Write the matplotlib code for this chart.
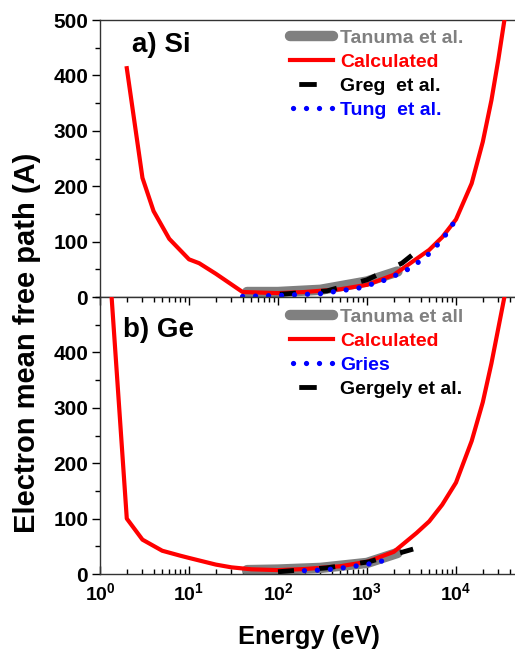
import numpy as np
import matplotlib
matplotlib.use('Agg')
import matplotlib.pyplot as plt
from matplotlib.ticker import MultipleLocator, LogLocator, NullFormatter
from matplotlib.lines import Line2D

plt.rcParams['font.family'] = ['Liberation Sans', 'DejaVu Sans']
plt.rcParams['font.weight'] = 'bold'
plt.rcParams['mathtext.fontset'] = 'custom'
plt.rcParams['mathtext.rm'] = 'Liberation Sans:bold'
plt.rcParams['mathtext.it'] = 'Liberation Sans:bold'
plt.rcParams['mathtext.bf'] = 'Liberation Sans:bold'

# ---------------- data ----------------
# a) Si
si_calc_E = [2, 3, 4, 6, 10, 13, 20, 40, 100, 200, 500, 1000, 2000, 5000, 7000, 10000,
             15000, 20000, 25000, 30000, 35000]
si_calc_v = [413, 215, 155, 105, 68, 61, 42, 9, 7, 9, 14, 22, 40, 85, 108, 140,
             205, 280, 355, 430, 500]
si_tanuma_E = [45, 100, 300, 1000, 2200]
si_tanuma_v = [9, 9, 13, 28, 46]
si_greg_E = [105, 355, 1000, 2470, 4700]
si_greg_v = [5, 11, 31, 61, 97]
si_tung_E = [40, 110, 300, 800, 1500, 2700, 4500, 7000, 10000]
si_tung_v = [1, 3, 6, 16, 29, 47, 71, 103, 140]

# b) Ge
ge_calc_E = [1.35, 2, 3, 5, 8, 10, 20, 30, 50, 100, 200, 500, 1000, 2000, 3600, 5000,
             7000, 10000, 15000, 20000, 25000, 30000, 35000]
ge_calc_v = [500, 100, 62, 42, 33, 29, 17, 12, 8.5, 7, 9, 14, 22, 40, 74, 95,
             125, 165, 240, 310, 380, 445, 500]
ge_tanuma_E = [45, 100, 300, 1000, 2200]
ge_tanuma_v = [7, 8, 11, 20, 38]
ge_gergely_E = [100, 350, 1050, 3300]
ge_gergely_v = [4, 11, 22, 45]
ge_gries_E = [198, 291, 418, 601, 857, 1200, 1590]
ge_gries_v = [6, 7, 9, 12, 16, 19.5, 25]

y_ticks_a = [0, 100, 200, 300, 400, 500]
y_ticks_b = [0, 100, 200, 300, 400]

GRAY = '#808080'
RED = '#ff0000'
BLUE = '#0000ff'
BLACK = '#000000'

fig = plt.figure(figsize=(5.15, 6.5), dpi=100)
W, H = 515.0, 650.0
def pos(l, t, r, b):
    return [l / W, 1 - b / H, (r - l) / W, (b - t) / H]

ax1 = fig.add_axes(pos(100, 20, 518.2, 297))
ax2 = fig.add_axes(pos(100, 297, 518.2, 574))

gray_kw = dict(color=GRAY, lw=7.5, solid_capstyle='round', zorder=2)
red_kw = dict(color=RED, lw=3.0, zorder=3)
dash_kw = dict(color=BLACK, lw=3.5, linestyle=(0, (3.3, 5.2)), zorder=4)
dot_kw = dict(color=BLUE, lw=3.8, linestyle=(0, (0.01, 2.45)), dash_capstyle='round', zorder=5)

ax1.plot(si_tanuma_E, si_tanuma_v, **gray_kw)
ax1.plot(si_calc_E, si_calc_v, **red_kw)
ax1.plot(si_greg_E, si_greg_v, **dash_kw)
ax1.plot(si_tung_E, si_tung_v, **dot_kw)

ax2.plot(ge_tanuma_E, ge_tanuma_v, **gray_kw)
ax2.plot(ge_calc_E, ge_calc_v, **red_kw)
ax2.plot(ge_gergely_E, ge_gergely_v, **dash_kw)
ax2.plot(ge_gries_E, ge_gries_v, **dot_kw)

for ax in (ax1, ax2):
    ax.set_xscale('log')
    ax.set_xlim(1, 5e4)
    ax.set_ylim(0, 500)
    ax.yaxis.set_minor_locator(MultipleLocator(50))
    ax.tick_params(axis='y', which='major', direction='out', length=6, width=1, labelsize=15, pad=2.5)
    ax.tick_params(axis='y', which='minor', direction='out', length=3.5, width=1)
    for s in ax.spines.values():
        s.set_color('#333333')
        s.set_linewidth(1)
    ax.spines['right'].set_visible(False)

ax1.set_yticks(y_ticks_a)
ax2.set_yticks(y_ticks_b)
ax1.tick_params(axis='x', which='both', bottom=False, top=False, labelbottom=False)

ax2.xaxis.set_major_locator(LogLocator(base=10, numticks=10))
ax2.xaxis.set_minor_locator(LogLocator(base=10, subs=np.arange(2, 10), numticks=50))
ax2.xaxis.set_minor_formatter(NullFormatter())
ax2.tick_params(axis='x', which='major', direction='in', top=True, bottom=True, length=6, width=1, labelsize=14, pad=6)
ax2.tick_params(axis='x', which='minor', direction='in', top=True, bottom=True, length=3.5, width=1)

# legends
def add_legend(ax, handles, labels, colors, x0, y0):
    leg = ax.legend(handles, labels, loc='upper left', bbox_to_anchor=(x0, y0),
                    frameon=False, borderpad=0, borderaxespad=0,
                    handlelength=2.2, handletextpad=0.37, labelspacing=0.33,
                    prop={'size': 14, 'weight': 'bold'})
    for t, c in zip(leg.get_texts(), colors):
        t.set_color(c)
    return leg

h_gray = Line2D([], [], color=GRAY, lw=7.5, solid_capstyle='round')
h_red = Line2D([], [], color=RED, lw=3.0)
h_dash = Line2D([], [], color=BLACK, lw=3.5, linestyle=(6.9, (3.6, 5.1)))
h_dot = Line2D([], [], color=BLUE, lw=3.8, linestyle=(1.89, (0.01, 2.45)), dash_capstyle='round')

add_legend(ax1, [h_gray, h_red, h_dash, h_dot],
           ['Tanuma et al.', 'Calculated', 'Greg  et al.', 'Tung  et al.'],
           [GRAY, RED, BLACK, BLUE], 0.454, 0.966)
add_legend(ax2, [h_gray, h_red, h_dot, h_dash],
           ['Tanuma et all', 'Calculated', 'Gries', 'Gergely et al.'],
           [GRAY, RED, BLUE, BLACK], 0.454, 0.96)

ax1.text(0.0765, 0.884, 'a) Si', transform=ax1.transAxes, fontsize=20, fontweight='bold', va='baseline', ha='left')
ax2.text(0.055, 0.856, 'b) Ge', transform=ax2.transAxes, fontsize=20, fontweight='bold', va='baseline', ha='left')

fig.text(27 / W, 1 - 343 / H, 'Electron mean free path (A)', rotation=90, ha='center', va='center', fontsize=21, fontweight='bold')
fig.text(309 / W, 1 - 644 / H, 'Energy (eV)', ha='center', va='baseline', fontsize=18.4, fontweight='bold')

fig.savefig('out.png', dpi=100)
